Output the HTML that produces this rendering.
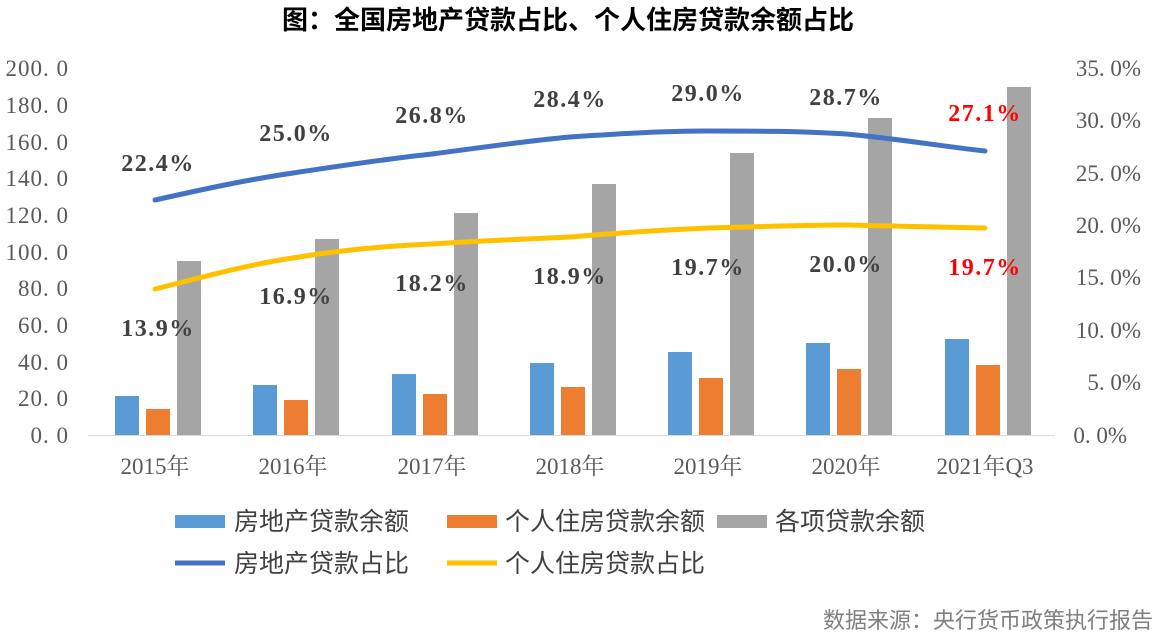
<!DOCTYPE html>
<html><head><meta charset="utf-8"><style>
body{margin:0;background:#fff;}
svg{display:block;}
.t{font-family:"Liberation Serif","Noto Serif CJK SC",serif;fill:#595959;font-size:23px;}
.d{font-family:"Liberation Serif","Noto Serif CJK SC",serif;fill:#404040;font-size:24px;font-weight:bold;letter-spacing:1.5px;}
.l{font-family:"Liberation Sans","Noto Sans CJK SC",sans-serif;fill:#404040;font-size:25px;}
</style></head><body>
<svg width="1163" height="639" viewBox="0 0 1163 639">
<text x="568" y="29" text-anchor="middle" style="font-family:'Liberation Sans','Noto Sans CJK SC',sans-serif;font-weight:bold;font-size:26px;fill:#000">图：全国房地产贷款占比、个人住房贷款余额占比</text>
<g class="t" text-anchor="end">
<text x="69" y="443" letter-spacing="1">0. 0</text>
<text x="69" y="406" letter-spacing="1">20. 0</text>
<text x="69" y="370" letter-spacing="1">40. 0</text>
<text x="69" y="333" letter-spacing="1">60. 0</text>
<text x="69" y="296" letter-spacing="1">80. 0</text>
<text x="69" y="260" letter-spacing="1">100. 0</text>
<text x="69" y="223" letter-spacing="1">120. 0</text>
<text x="69" y="186" letter-spacing="1">140. 0</text>
<text x="69" y="150" letter-spacing="1">160. 0</text>
<text x="69" y="113" letter-spacing="1">180. 0</text>
<text x="69" y="76" letter-spacing="1">200. 0</text>
</g>
<g class="t" text-anchor="end">
<text x="1127" y="443">0. 0%</text>
<text x="1141" y="390">5. 0%</text>
<text x="1141" y="338">10. 0%</text>
<text x="1141" y="285">15. 0%</text>
<text x="1141" y="233">20. 0%</text>
<text x="1141" y="181">25. 0%</text>
<text x="1141" y="128">30. 0%</text>
<text x="1141" y="76">35. 0%</text>
</g>
<g>
<rect x="115" y="396" width="24" height="39" fill="#5b9bd5"/><rect x="146" y="409" width="24" height="26" fill="#ed7d31"/><rect x="177" y="261" width="24" height="174" fill="#a5a5a5"/>
<rect x="253" y="385" width="24" height="50" fill="#5b9bd5"/><rect x="284" y="400" width="24" height="35" fill="#ed7d31"/><rect x="315" y="239" width="24" height="196" fill="#a5a5a5"/>
<rect x="392" y="374" width="24" height="61" fill="#5b9bd5"/><rect x="423" y="394" width="24" height="41" fill="#ed7d31"/><rect x="454" y="213" width="24" height="222" fill="#a5a5a5"/>
<rect x="530" y="363" width="24" height="72" fill="#5b9bd5"/><rect x="561" y="387" width="24" height="48" fill="#ed7d31"/><rect x="592" y="184" width="24" height="251" fill="#a5a5a5"/>
<rect x="668" y="352" width="24" height="83" fill="#5b9bd5"/><rect x="699" y="378" width="24" height="57" fill="#ed7d31"/><rect x="730" y="153" width="24" height="282" fill="#a5a5a5"/>
<rect x="806" y="343" width="24" height="92" fill="#5b9bd5"/><rect x="837" y="369" width="24" height="66" fill="#ed7d31"/><rect x="868" y="118" width="24" height="317" fill="#a5a5a5"/>
<rect x="945" y="339" width="24" height="96" fill="#5b9bd5"/><rect x="976" y="365" width="24" height="70" fill="#ed7d31"/><rect x="1007" y="87" width="24" height="348" fill="#a5a5a5"/>
</g>
<line x1="88" y1="435.5" x2="1055" y2="435.5" stroke="#d9d9d9" stroke-width="1"/>
<path d="M155,200 C200,190 245,180 293,173 C340,166 385,159 432,154 C478,148 525,141 570,137 C616,134 662,131 708,131 C754,131 800,131 846,134 C892,138 940,146 985,151" fill="none" stroke="#4472c4" stroke-width="5" stroke-linecap="round"/>
<path d="M155,289 C200,278 245,265 293,258 C340,250 385,246 432,244 C478,241 525,239 570,237 C616,233 662,230 708,228 C754,227 800,225 846,225 C892,226 940,227 985,228" fill="none" stroke="#ffc000" stroke-width="5" stroke-linecap="round"/>
<g class="d" text-anchor="middle">
<text x="158" y="171">22.4%</text><text x="296" y="141">25.0%</text><text x="432" y="123">26.8%</text><text x="570" y="107">28.4%</text><text x="708" y="101">29.0%</text><text x="846" y="105">28.7%</text><text x="985" y="121" style="fill:#ff0000">27.1%</text>
<text x="158" y="336">13.9%</text><text x="296" y="304">16.9%</text><text x="432" y="291">18.2%</text><text x="570" y="284">18.9%</text><text x="708" y="275">19.7%</text><text x="846" y="272">20.0%</text><text x="985" y="275" style="fill:#ff0000">19.7%</text>
</g>
<g class="t" text-anchor="middle">
<text x="155" y="474">2015年</text><text x="293" y="474">2016年</text><text x="432" y="474">2017年</text><text x="570" y="474">2018年</text><text x="708" y="474">2019年</text><text x="846" y="474">2020年</text><text x="985" y="474">2021年Q3</text>
</g>
<rect x="175" y="515" width="50" height="13" fill="#5b9bd5"/><text class="l" x="234" y="530">房地产贷款余额</text>
<rect x="447" y="515" width="50" height="13" fill="#ed7d31"/><text class="l" x="505" y="530">个人住房贷款余额</text>
<rect x="717" y="515" width="50" height="13" fill="#a5a5a5"/><text class="l" x="775" y="530">各项贷款余额</text>
<line x1="175" y1="563" x2="225" y2="563" stroke="#4472c4" stroke-width="5"/><text class="l" x="234" y="572">房地产贷款占比</text>
<line x1="447" y1="563" x2="497" y2="563" stroke="#ffc000" stroke-width="5"/><text class="l" x="505" y="572">个人住房贷款占比</text>
<text x="1153" y="628" text-anchor="end" style="font-family:'Liberation Sans','Noto Sans CJK SC',sans-serif;font-size:22px;fill:#7f7f7f">数据来源：央行货币政策执行报告</text>
</svg>
</body></html>
